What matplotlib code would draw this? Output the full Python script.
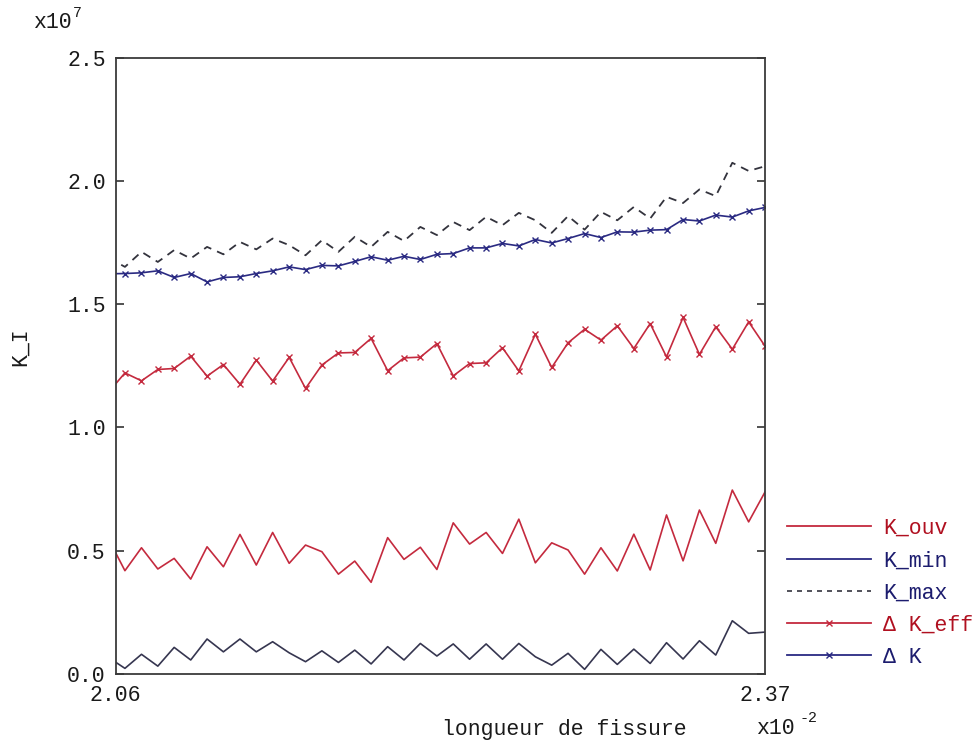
import numpy as np
import matplotlib
matplotlib.use('Agg')
import matplotlib.pyplot as plt
from matplotlib.lines import Line2D

plt.rcParams['font.family'] = ['Liberation Mono', 'DejaVu Sans Mono']

# crack length (x1e-2)
longueur = [2.0567, 2.0645, 2.0724, 2.0802, 2.0880, 2.0959, 2.1037, 2.1115, 2.1194, 2.1272,
            2.1350, 2.1429, 2.1507, 2.1585, 2.1664, 2.1742, 2.1820, 2.1899, 2.1977, 2.2055,
            2.2134, 2.2212, 2.2290, 2.2369, 2.2447, 2.2525, 2.2604, 2.2682, 2.2760, 2.2839,
            2.2917, 2.2995, 2.3074, 2.3152, 2.3230, 2.3309, 2.3387, 2.3465, 2.3544, 2.3622,
            2.3700]

# K values (x1e7)
k_ouv = [0.547, 0.419, 0.512, 0.426, 0.469, 0.385, 0.516, 0.435, 0.566, 0.442,
         0.574, 0.449, 0.523, 0.496, 0.405, 0.458, 0.372, 0.553, 0.465, 0.514,
         0.424, 0.613, 0.527, 0.574, 0.489, 0.628, 0.451, 0.532, 0.503, 0.405,
         0.512, 0.418, 0.567, 0.422, 0.645, 0.459, 0.665, 0.530, 0.746, 0.617,
         0.738]
k_min = [0.067, 0.023, 0.080, 0.032, 0.108, 0.057, 0.142, 0.090, 0.142, 0.090,
         0.131, 0.086, 0.050, 0.094, 0.047, 0.097, 0.041, 0.111, 0.057, 0.124,
         0.073, 0.122, 0.060, 0.122, 0.060, 0.124, 0.070, 0.036, 0.084, 0.019,
         0.100, 0.039, 0.101, 0.043, 0.127, 0.061, 0.135, 0.077, 0.216, 0.165,
         0.170]
k_max = [1.688, 1.651, 1.712, 1.671, 1.719, 1.685, 1.732, 1.702, 1.752, 1.722,
         1.766, 1.739, 1.698, 1.759, 1.712, 1.773, 1.732, 1.793, 1.756, 1.813,
         1.780, 1.833, 1.800, 1.854, 1.820, 1.870, 1.840, 1.789, 1.857, 1.802,
         1.874, 1.840, 1.894, 1.847, 1.935, 1.910, 1.965, 1.938, 2.073, 2.040,
         2.059]
dk_eff = [1.143, 1.221, 1.189, 1.235, 1.239, 1.289, 1.208, 1.255, 1.175, 1.273,
          1.188, 1.284, 1.158, 1.253, 1.302, 1.304, 1.361, 1.230, 1.282, 1.285,
          1.340, 1.209, 1.259, 1.262, 1.323, 1.229, 1.378, 1.243, 1.343, 1.398,
          1.354, 1.412, 1.320, 1.421, 1.286, 1.446, 1.296, 1.408, 1.317, 1.428,
          1.330]
dk = [1.623, 1.624, 1.627, 1.635, 1.608, 1.624, 1.590, 1.608, 1.611, 1.624,
      1.635, 1.651, 1.640, 1.657, 1.655, 1.673, 1.692, 1.678, 1.694, 1.681,
      1.702, 1.705, 1.728, 1.728, 1.746, 1.736, 1.762, 1.748, 1.766, 1.786,
      1.770, 1.793, 1.792, 1.800, 1.802, 1.843, 1.837, 1.861, 1.853, 1.878,
      1.892]

red = '#c42a3e'
navy = '#2a2a82'
slate = '#363650'
dash = '#33333d'
fs = 15.5

fig = plt.figure(figsize=(9.78, 7.42), dpi=100)
ax = fig.add_axes([0.1181, 0.0916, 0.7822 - 0.1181, 0.9225 - 0.0916])

ax.plot(longueur, k_ouv, color=red, lw=1.2)
ax.plot(longueur, k_min, color=slate, lw=1.2)
ax.plot(longueur, k_max, color=dash, lw=1.3, dashes=(4.5, 3.5))
ax.plot(longueur, dk_eff, color=red, lw=1.2, marker='x', ms=4, mew=1.0)
ax.plot(longueur, dk, color=navy, lw=1.2, marker='x', ms=4, mew=1.0)

ax.set_xlim(2.06, 2.37)
ax.set_ylim(0, 2.5)
ax.set_xticks([2.06, 2.37])
ax.set_xticklabels(['2.06', '2.37'])
ax.set_yticks([0, 0.5, 1.0, 1.5, 2.0, 2.5])
ax.set_yticklabels(['0.0', '0.5', '1.0', '1.5', '2.0', '2.5'])
ax.tick_params(axis='y', direction='in', length=6, width=1.2, right=True,
               labelsize=fs, pad=7, colors='#333333', labelcolor='#1a1a1a')
ax.tick_params(axis='x', direction='in', length=0, labelsize=fs, pad=8,
               labelcolor='#1a1a1a')
for s in ax.spines.values():
    s.set_color('#3a3a3a')
    s.set_linewidth(1.3)

# axis labels and multipliers
fig.text(20 / 978, 1 - 347 / 742, 'K_I', rotation=90, fontsize=fs,
         ha='center', va='center', color='#1a1a1a')
fig.text(564 / 978, 1 - 729 / 742, 'longueur de fissure', fontsize=fs,
         ha='center', va='center', color='#1a1a1a')
fig.text(756 / 978, 1 - 729 / 742, 'x10', fontsize=fs, ha='left', va='center', color='#1a1a1a')
fig.text(800 / 978, 1 - 718 / 742, '-2', fontsize=fs * 0.7, ha='left', va='center', color='#1a1a1a')
fig.text(33 / 978, 1 - 22 / 742, 'x10', fontsize=fs, ha='left', va='center', color='#1a1a1a')
fig.text(73 / 978, 1 - 13 / 742, '7', fontsize=fs * 0.7, ha='left', va='center', color='#1a1a1a')

# legend
handles = [
    Line2D([], [], color=red, lw=1.3),
    Line2D([], [], color=navy, lw=1.3),
    Line2D([], [], color=dash, lw=1.2, dashes=(3, 3)),
    Line2D([], [], color=red, lw=1.3, marker='x', ms=4),
    Line2D([], [], color=navy, lw=1.3, marker='x', ms=4),
]
labels = ['K_ouv', 'K_min', 'K_max', '\u0394 K_eff', '\u0394 K']
leg = fig.legend(handles, labels, loc='upper left',
                 bbox_to_anchor=(787 / 978, 1 - 518 / 742),
                 frameon=False, fontsize=fs, handlelength=3.9, handletextpad=0.55,
                 labelspacing=0.52, borderpad=0, borderaxespad=0, numpoints=1,
                 labelcolor=['#b01020', '#1c1c6e', '#1c1c6e', '#b01020', '#1c1c6e'])

fig.savefig('out.png', dpi=100)
